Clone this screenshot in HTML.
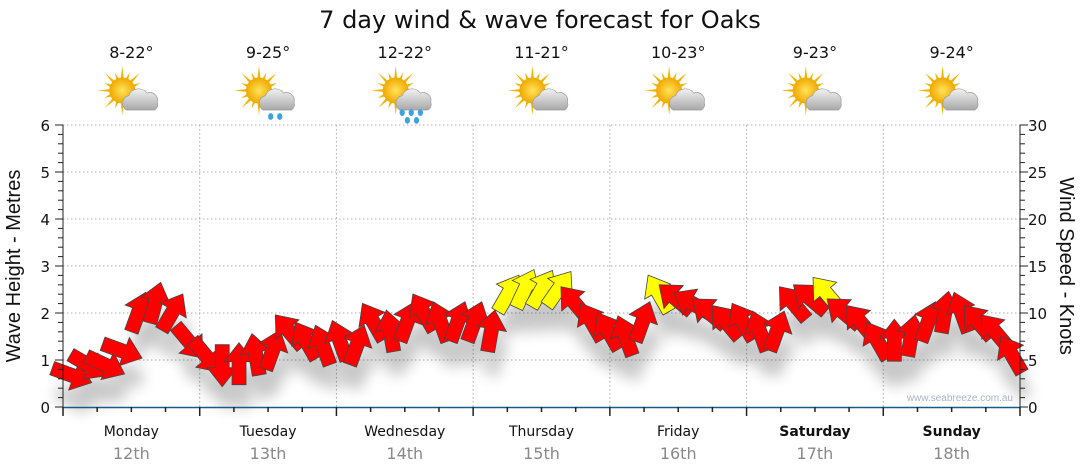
<!DOCTYPE html>
<html><head><meta charset="utf-8">
<style>
body{margin:0;background:#fff;}
svg{display:block;font-family:"DejaVu Sans","Liberation Sans",sans-serif;}
</style></head>
<body>
<svg id="chart" width="1080" height="475" viewBox="0 0 1080 475">
<defs>
<filter id="sh" x="-50%" y="-50%" width="200%" height="200%"><feGaussianBlur stdDeviation="7"/></filter>
<radialGradient id="sun" cx="0.5" cy="0.5" r="0.5"><stop offset="0" stop-color="#ffe35a"/><stop offset="1" stop-color="#f0a800"/></radialGradient>
<linearGradient id="cloud" x1="0" y1="0" x2="0" y2="1"><stop offset="0" stop-color="#f2f2f2"/><stop offset="1" stop-color="#a8a8a8"/></linearGradient>
</defs>
<text x="540" y="28" text-anchor="middle" font-size="24" fill="#111">7 day wind &amp; wave forecast for Oaks</text>
<g id="grid"></g>
<g id="icons"></g>
<g id="shadows" filter="url(#sh)" opacity="0.22"></g>
<g id="arrows"></g>
<g id="axes"></g>
<text x="1013" y="401" text-anchor="end" font-size="10" fill="#a8b4c4" font-family="Liberation Sans,sans-serif">www.seabreeze.com.au</text>
<text transform="translate(20,266) rotate(-90)" text-anchor="middle" font-size="20" fill="#111" font-family="Liberation Sans,sans-serif">Wave Height - Metres</text>
<text transform="translate(1060,266) rotate(90)" text-anchor="middle" font-size="20" fill="#111" font-family="Liberation Sans,sans-serif">Wind Speed - Knots</text>
</svg>
<script>
const days=["Monday","Tuesday","Wednesday","Thursday","Friday","Saturday","Sunday"];
const dates=["12th","13th","14th","15th","16th","17th","18th"];
const temps=["8-22°","9-25°","12-22°","11-21°","10-23°","9-23°","9-24°"];
const rain=[0,1,2,0,0,0,0];
const waveTicks=[0,1,2,3,4,5,6];
const windTicks=[0,5,10,15,20,25,30];
const windSpeed=[3.4,4.5,4.5,6,10,11,10,7, 5.5,4.5,4.5,5.5,6,8,7,6.5, 7,6.5,9,8,9,10,9,9, 9,8,12,12.5,12.5,12.5,11,9, 8,7.5,9,12,11.5,11,10,9, 9,8,8,11,11.5,12,10,9, 7,7,7.5,9,10,10,9,8,5.5];
const windDir=[110,120,115,110,20,15,30,140, 140,180,0,350,20,320,330,340, 340,20,330,350,20,330,340,20, 20,10,30,25,30,35,320,330, 330,340,20,330,310,300,310,320, 330,340,20,320,310,320,310,320, 330,0,10,20,10,340,320,320,330];
const NS="http://www.w3.org/2000/svg";
const X0=63,X1=1020,Y0=407,Y1=125,nDays=7;
const dayW=(X1-X0)/nDays;
function xT(i){return X0+8+i*(X1-X0-16)/(windSpeed.length-1);}
function yW(k){return Y0-(k/30)*(Y0-Y1);}
function yM(m){return Y0-(m/6)*(Y0-Y1);}
function el(tag,attrs,parent){const e=document.createElementNS(NS,tag);for(const k in attrs)e.setAttribute(k,attrs[k]);parent.appendChild(e);return e;}
const grid=document.getElementById('grid'),axes=document.getElementById('axes'),icons=document.getElementById('icons');
waveTicks.forEach(t=>{
  if(t>0){const g=el('line',{x1:X0,x2:X1,y1:yM(t),y2:yM(t),stroke:'#aaa','stroke-dasharray':'1.5,2.5'},grid);
  
  }
  const tl=el('text',{x:50,y:yM(t)+6,'text-anchor':'end','font-size':15,fill:'#111'},axes);tl.textContent=t;
  
  
});
windTicks.forEach(t=>{
  const tl=el('text',{x:1028,y:yW(t)+6,'font-size':15,fill:'#111'},axes);tl.textContent=t;
  
  
});
for(let i=0;i<=30;i++){const y=yW(i);const l=i%5==0?8:5;
  el('line',{x1:X0-l,x2:X0,y1:y,y2:y,stroke:'#222'},axes);
  el('line',{x1:X1,x2:X1+l,y1:y,y2:y,stroke:'#222'},axes);}
for(let d=1;d<nDays;d++){const x=X0+d*dayW;
  const g=el('line',{x1:x,x2:x,y1:Y1,y2:Y0,stroke:'#aaa','stroke-dasharray':'1.5,2.5'},grid);
  
  }
el('line',{x1:X0,x2:X0,y1:Y1,y2:Y0+1,stroke:'#222'},axes);
el('line',{x1:X1,x2:X1,y1:Y1,y2:Y0+1,stroke:'#222'},axes);
el('line',{x1:X0,x2:X1,y1:Y0+0.5,y2:Y0+0.5,stroke:'#1a5a86','stroke-width':1.5},axes);
for(let i=0;i<=28;i++){const x=X0+i*dayW/4;el('line',{x1:x,x2:x,y1:Y0,y2:Y0+(i%4==0?9:5),stroke:'#222','stroke-width':1.5},axes);}
days.forEach((d,i)=>{const cx=X0+(i+0.5)*dayW;
  const wk=i>=5;
  const t=el('text',{x:cx,y:436,'text-anchor':'middle','font-size':14,fill:'#111','font-weight':wk?'bold':'normal'},axes);t.textContent=d;
  
  
  const t2=el('text',{x:cx,y:459,'text-anchor':'middle','font-size':16,fill:'#888'},axes);t2.textContent=dates[i];
  
  
  const t3=el('text',{x:cx,y:58,'text-anchor':'middle','font-size':16,fill:'#111'},icons);t3.textContent=temps[i];
  
  
  const g=el('g',{transform:`translate(${cx},97) scale(1.3)`},icons);
  
  
  const sx=-7,sy=-5;
  for(let a=0;a<16;a++){const an=a*Math.PI/8;const r1=9,r2=a%2?15:19;
    el('polygon',{points:`${sx+Math.cos(an-0.13)*r1},${sy+Math.sin(an-0.13)*r1} ${sx+Math.cos(an)*r2},${sy+Math.sin(an)*r2} ${sx+Math.cos(an+0.13)*r1},${sy+Math.sin(an+0.13)*r1}`,fill:'#f2b400'},g);}
  el('circle',{cx:sx,cy:sy,r:10,fill:'url(#sun)'},g);
  el('path',{d:'M-4,10 a6,6 0 0 1 2,-11 a8,8 0 0 1 14,-2 a6,6 0 0 1 8,7 a5,5 0 0 1 -2,6 z',fill:'url(#cloud)',stroke:'#999','stroke-width':0.5},g);
  if(rain[i]){const drops=rain[i]==1?[[2,15],[9,15]]:[[-2,12],[5,12],[12,12],[2,18],[9,18]];
    drops.forEach(p=>el('ellipse',{cx:p[0],cy:p[1],rx:2,ry:2.6,fill:'#3aa2e0'},g));}
});
const arr=document.getElementById('arrows'),sh=document.getElementById('shadows');
const shape='M0,-22 L15,-3 L7,-3 L7,20 L-7,20 L-7,-3 L-15,-3 Z';
windSpeed.forEach((k,i)=>{
  const x=xT(i),y=yW(k);
  el('path',{d:shape,transform:`translate(${x+4},${y+24}) rotate(${windDir[i]})`,fill:'#000'},sh);
  const a=el('path',{d:shape,transform:`translate(${x},${y}) rotate(${windDir[i]})`,fill:k>=12?'#ffff00':'#ff0000',stroke:'#444','stroke-width':0.8},arr);
  
  
});
</script>
</body></html>
